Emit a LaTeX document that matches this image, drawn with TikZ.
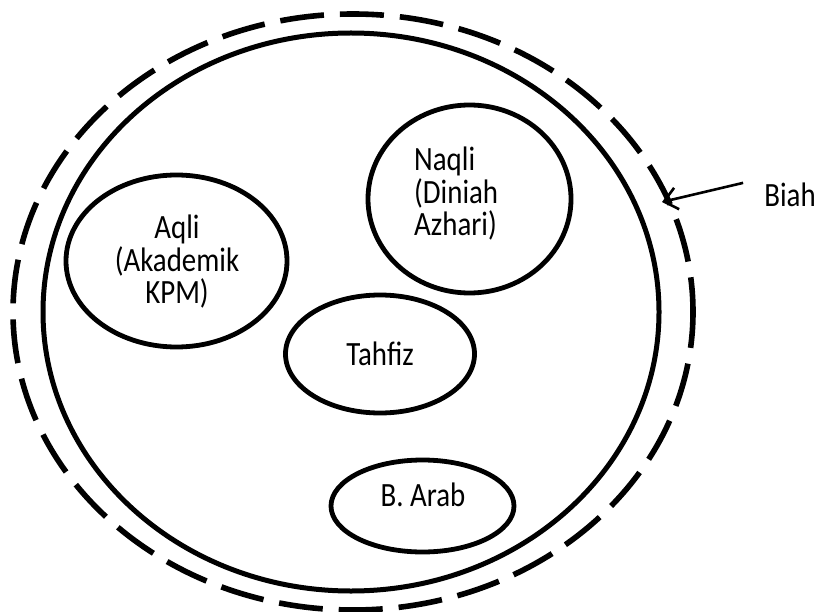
\documentclass[tikz,border=0pt]{standalone}
\usepackage{fontspec}
\setmainfont[FakeStretch=0.85]{Carlito}
\usetikzlibrary{shapes.geometric,arrows.meta}

\tikzset{
  ring/.style={draw,line width=4.8pt,ellipse,inner sep=0pt},
  lbl/.style={font=\fontsize{34}{34}\selectfont,inner sep=0pt},
  pointer/.style={line width=2.6pt,-{Straight Barb[length=13pt,width=22pt,line width=2.6pt]}}
}

\begin{document}
\begin{tikzpicture}[x=1pt,y=-1pt]
  \useasboundingbox (0,0) rectangle (818,612);
  % biah (dashed) and the school
  \draw[line width=5.6pt,dash pattern=on 44pt off 16pt,dash phase=8pt] (353,312) ellipse [x radius=340,y radius=298];
  \draw[line width=5pt] (351,312) ellipse [x radius=308,y radius=279];
  % the four parts
  \node[ring,minimum width=221pt,minimum height=172pt] (aqli) at (176.5,261) {};
  \node[ring,minimum width=203pt,minimum height=188pt] (naqli) at (469.5,199) {};
  \node[ring,minimum width=189pt,minimum height=118pt] (tahfiz) at (380,354) {};
  \node[ring,minimum width=183pt,minimum height=92pt] (arab) at (422.5,506) {};
  \node[lbl,align=center,font=\fontsize{34}{32.5}\selectfont] (aqlitxt) at (177,262) {Aqli\\(Akademik\\KPM)};
  \node[lbl,align=left,anchor=west,font=\fontsize{34}{32.5}\selectfont] (naqlitxt) at (414,194) {Naqli\\(Diniah\\Azhari)};
  \node[lbl] (tahfiztxt) at (tahfiz.center) {Tahfiz};
  \node[lbl] (arabtxt) at (423,495) {B. Arab};
  % label with arrow
  \node[lbl,inner xsep=21pt] (biahtxt) at (790,195) {Biah};
  \coordinate (rim) at (662,202);
  \draw[pointer] (biahtxt.north west) -- (rim);
\end{tikzpicture}
\end{document}
